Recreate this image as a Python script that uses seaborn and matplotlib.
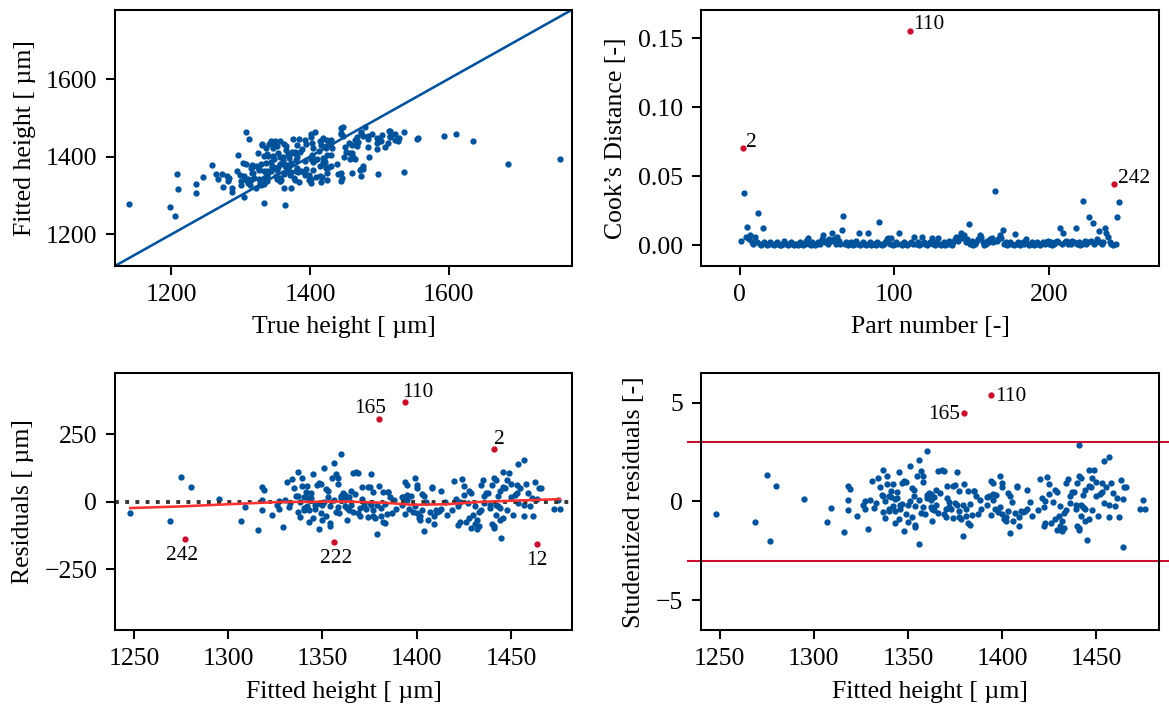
import matplotlib
matplotlib.use('Agg')

import matplotlib.pyplot as plt
import numpy as np
import seaborn as sns

BLUE = '#00529b'
RED = '#c8102e'
LOWESS_RED = '#ff3030'

# fitted height [um] and residual [um] of the unflagged parts
fitted = [1248, 1269, 1275, 1280, 1295, 1307, 1309, 1316, 1318, 1318, 1318, 1319, 1323, 1326, 1327,
          1327, 1329, 1330, 1331, 1332, 1334, 1335, 1336, 1337, 1337, 1338, 1338, 1339, 1339, 1340,
          1340, 1340, 1341, 1341, 1342, 1342, 1343, 1343, 1343, 1344, 1345, 1345, 1346, 1346, 1347,
          1347, 1348, 1348, 1349, 1349, 1350, 1351, 1351, 1352, 1352, 1353, 1354, 1354, 1354, 1355,
          1356, 1356, 1357, 1357, 1358, 1358, 1359, 1360, 1360, 1360, 1361, 1362, 1362, 1362, 1363,
          1363, 1364, 1364, 1365, 1365, 1366, 1367, 1368, 1369, 1369, 1370, 1370, 1371, 1372, 1372,
          1373, 1374, 1374, 1375, 1375, 1376, 1376, 1377, 1377, 1377, 1378, 1379, 1379, 1380, 1381,
          1381, 1382, 1382, 1383, 1383, 1384, 1385, 1385, 1386, 1387, 1389, 1392, 1392, 1393, 1394,
          1394, 1395, 1395, 1395, 1396, 1397, 1398, 1399, 1399, 1400, 1400, 1400, 1401, 1402, 1402,
          1403, 1403, 1404, 1405, 1406, 1407, 1408, 1408, 1409, 1409, 1410, 1411, 1412, 1413, 1413,
          1415, 1419, 1420, 1421, 1422, 1422, 1423, 1423, 1424, 1425, 1425, 1426, 1427, 1428, 1428,
          1429, 1429, 1430, 1431, 1431, 1432, 1432, 1433, 1433, 1434, 1434, 1435, 1436, 1438, 1437,
          1439, 1439, 1440, 1440, 1441, 1441, 1441, 1442, 1442, 1442, 1443, 1443, 1444, 1444, 1445,
          1446, 1446, 1446, 1447, 1448, 1449, 1450, 1450, 1451, 1452, 1453, 1453, 1454, 1454, 1455,
          1457, 1457, 1457, 1458, 1460, 1461, 1462, 1463, 1464, 1465, 1466, 1473, 1475, 1476,
          1333, 1344, 1350, 1353, 1358, 1366, 1371, 1388, 1404, 1416, 1436, 1444, 1448, 1459, 1337]
resid = [-43, -71, 89, 53, 9, -71, -22, -106, 4, -30, 54, 44, -49, -12, 2,
         -27, -94, 4, 71, -22, 82, 49, 21, 108, -37, 0, -57, 86, 59, 18,
         -25, -33, 15, 37, 59, -16, 9, -76, -32, 12, -62, 101, -27, -12, 62,
         -10, -103, 69, -44, 66, -12, 0, 123, 47, -53, 18, -81, -89, -16, 86,
         142, 6, -39, 103, 66, 86, -43, 12, 175, 22, 30, 25, -18, 6, -25,
         -68, -30, 16, -12, 39, 106, 27, 108, 105, -43, -25, -55, 52, -18, -4,
         -27, -58, 54, 55, -6, -12, 101, 37, -32, -55, -62, -120, -12, 59, -52,
         -25, 37, -74, -80, -10, -47, 37, 34, 18, -44, -28, -12, 15, 17, -46,
         71, 25, 62, 6, -27, 22, -37, 86, -18, 62, 49, -43, -62, -68, -55,
         27, -33, -108, -2, -68, -39, 49, 52, -55, -84, -33, -37, -34, 39, -27,
         -2, -31, 77, 10, -86, -18, -76, 0, 84, 59, 25, -74, -4, 39, -62,
         31, -98, -49, -15, -84, -69, -101, -92, -39, -31, 62, 78, -6, 31, 31,
         -12, -25, -84, 62, 86, -92, -98, 80, -49, -12, 22, -18, -68, -25, -133,
         -62, 108, 54, 49, 80, 107, 18, 66, -49, 25, 31, 62, -6, 139, 49,
         -12, -55, 153, 64, -16, 12, -55, 73, 9, 49, 49, -28, 4, -28,
         -5, 33, -70, 40, -20, -40, 10, 5, 20, -50, 20, 40, -30, 30, 20]

# flagged parts
flag_part = [2, 12, 110, 165, 222, 242]
flag_fitted = [1441, 1464, 1394, 1380, 1356, 1277]
flag_resid = [194, -157, 367, 305, -148, -138]

# Cook's distance for part 1..245
cooks = [0.003, 0.070, 0.038, 0.006, 0.013, 0.004, 0.007, 0.002, 0.001, 0.006,
         0.002, 0.023, 0.001, 0.000, 0.012, 0.002, 0.001, 0.000, 0.001, 0.002,
         0.001, 0.000, 0.001, 0.002, 0.001, 0.000, 0.000, 0.001, 0.003, 0.001,
         0.000, 0.001, 0.002, 0.001, 0.000, 0.001, 0.001, 0.000, 0.002, 0.001,
         0.000, 0.001, 0.003, 0.005, 0.001, 0.000, 0.002, 0.001, 0.000, 0.001,
         0.002, 0.001, 0.004, 0.007, 0.002, 0.003, 0.001, 0.004, 0.003, 0.009,
         0.004, 0.001, 0.006, 0.003, 0.001, 0.011, 0.021, 0.001, 0.002, 0.000,
         0.001, 0.002, 0.000, 0.001, 0.003, 0.001, 0.009, 0.000, 0.001, 0.002,
         0.001, 0.000, 0.009, 0.002, 0.000, 0.001, 0.001, 0.000, 0.002, 0.017,
         0.001, 0.000, 0.001, 0.002, 0.004, 0.005, 0.001, 0.005, 0.000, 0.001,
         0.002, 0.001, 0.009, 0.001, 0.000, 0.002, 0.001, 0.000, 0.001, 0.155,
         0.002, 0.001, 0.006, 0.001, 0.002, 0.000, 0.001, 0.006, 0.002, 0.001,
         0.000, 0.001, 0.002, 0.005, 0.001, 0.000, 0.002, 0.005, 0.001, 0.000,
         0.001, 0.002, 0.000, 0.001, 0.003, 0.001, 0.000, 0.002, 0.004, 0.006,
         0.003, 0.006, 0.009, 0.005, 0.007, 0.002, 0.004, 0.015, 0.001, 0.003,
         0.000, 0.001, 0.002, 0.004, 0.007, 0.006, 0.002, 0.000, 0.001, 0.003,
         0.002, 0.004, 0.005, 0.002, 0.039, 0.003, 0.004, 0.007, 0.005, 0.011,
         0.001, 0.002, 0.000, 0.001, 0.002, 0.001, 0.000, 0.008, 0.001, 0.002,
         0.000, 0.001, 0.002, 0.001, 0.004, 0.001, 0.000, 0.001, 0.002, 0.000,
         0.001, 0.002, 0.001, 0.000, 0.001, 0.002, 0.001, 0.002, 0.003, 0.001,
         0.002, 0.000, 0.001, 0.002, 0.003, 0.002, 0.012, 0.001, 0.009, 0.002,
         0.003, 0.001, 0.002, 0.001, 0.003, 0.002, 0.012, 0.001, 0.002, 0.000,
         0.001, 0.032, 0.003, 0.001, 0.002, 0.020, 0.003, 0.016, 0.001, 0.002,
         0.004, 0.010, 0.002, 0.001, 0.002, 0.012, 0.009, 0.006, 0.002, 0.001,
         0.000, 0.044, 0.001, 0.020, 0.031]
cook_flag = [2, 110, 242]

# lowess smoother of the residuals
lowess_x = [1248, 1275, 1300, 1326, 1361, 1382, 1398, 1416, 1432, 1450, 1476]
lowess_y = [-24, -18, -10, -2, 0, -4, -12, -10, -2, 3, 9]

sigma = 68.0  # residual standard error [um]


def main():
    plt.rcParams['font.family'] = ['Liberation Serif', 'DejaVu Serif']
    plt.rcParams['font.size'] = 10

    fit_all = np.array(fitted + flag_fitted, dtype=float)
    res_all = np.array(resid + flag_resid, dtype=float)
    true_all = fit_all + res_all
    stud_all = res_all / sigma

    fig, axes = plt.subplots(2, 2, figsize=(6.32, 3.845), dpi=185)
    axes[0, 0].set_position([0.0986, 0.6259, 0.3907, 0.3600])
    axes[0, 1].set_position([0.5994, 0.6259, 0.3920, 0.3600])
    axes[1, 0].set_position([0.0986, 0.1139, 0.3907, 0.3615])
    axes[1, 1].set_position([0.5994, 0.1139, 0.3920, 0.3615])

    # true vs fitted
    ax = axes[0, 0]
    sns.scatterplot(x=true_all, y=fit_all, ax=ax, color=BLUE, s=6, linewidth=0)
    ax.axline((1200, 1200), slope=1, color=BLUE, lw=1.0)
    ax.set_xlim(1119, 1778)
    ax.set_ylim(1119, 1778)
    ax.set_xticks([1200, 1400, 1600])
    ax.set_yticks([1200, 1400, 1600])
    ax.set_xlabel('True height [ µm]')
    ax.set_ylabel('Fitted height [ µm]')

    # cook's distance
    ax = axes[0, 1]
    part = np.arange(1, len(cooks) + 1)
    cooks_arr = np.array(cooks)
    is_flag = np.isin(part, cook_flag)
    sns.scatterplot(x=part[~is_flag], y=cooks_arr[~is_flag], ax=ax, color=BLUE, s=6, linewidth=0)
    sns.scatterplot(x=part[is_flag], y=cooks_arr[is_flag], ax=ax, color=RED, s=6, linewidth=0)
    for p in cook_flag:
        ax.annotate(str(p), (p, cooks[p - 1]), xytext=(1.3, 0.8), textcoords='offset points',
                    fontsize=8.3, ha='left', va='baseline')
    ax.set_xlim(-25, 271)
    ax.set_ylim(-0.0151, 0.1706)
    ax.set_xticks([0, 100, 200])
    ax.set_yticks([0.0, 0.05, 0.10, 0.15])
    ax.set_xlabel('Part number [-]')
    ax.set_ylabel('Cook\u2019s Distance [-]')

    # residuals
    ax = axes[1, 0]
    sns.scatterplot(x=fitted, y=resid, ax=ax, color=BLUE, s=6, linewidth=0)
    sns.scatterplot(x=flag_fitted, y=flag_resid, ax=ax, color=RED, s=6, linewidth=0)
    ax.axhline(0, ls=':', color='.2', lw=1.5)
    sns.lineplot(x=lowess_x, y=lowess_y, ax=ax, color=LOWESS_RED, lw=1.0)
    offsets = {2: (2.2, 2.3), 12: (0, -2.6), 110: (4.9, 2.3), 165: (-3.4, 2.3),
               222: (0.9, -2.6), 242: (-1.2, -2.6)}
    for p, fx, fr in zip(flag_part, flag_fitted, flag_resid):
        dx, dy = offsets[p]
        ax.annotate(str(p), (fx, fr), xytext=(dx, dy), textcoords='offset points',
                    fontsize=8.3, ha='center', va='baseline' if dy > 0 else 'top')
    ax.set_xlim(1240, 1482.5)
    ax.set_ylim(-475, 476)
    ax.set_xticks([1250, 1300, 1350, 1400, 1450])
    ax.set_yticks([-250, 0, 250])
    ax.set_xlabel('Fitted height [ µm]')
    ax.set_ylabel('Residuals [ µm]')

    # studentized residuals
    ax = axes[1, 1]
    out = np.abs(stud_all) > 3
    sns.scatterplot(x=fit_all[~out], y=stud_all[~out], ax=ax, color=BLUE, s=6, linewidth=0)
    sns.scatterplot(x=fit_all[out], y=stud_all[out], ax=ax, color=RED, s=6, linewidth=0)
    for lim in (3, -3):
        ax.plot([1233, 1520], [lim, lim], color=RED, lw=0.8, clip_on=False)
    for p, fx, fr in zip(flag_part, flag_fitted, flag_resid):
        if abs(fr / sigma) > 3:
            right = p != 165
            ax.annotate(str(p), (fx, fr / sigma), xytext=(1.8 if right else -1.8, -0.5),
                        textcoords='offset points', fontsize=8.3,
                        ha='left' if right else 'right', va='center')
    ax.set_xlim(1240, 1483.4)
    ax.set_ylim(-6.52, 6.51)
    ax.set_xticks([1250, 1300, 1350, 1400, 1450])
    ax.set_yticks([-5, 0, 5])
    ax.set_xlabel('Fitted height [ µm]')
    ax.set_ylabel('Studentized residuals [-]')

    plt.savefig('out.png', dpi=185)


if __name__ == '__main__':
    main()
